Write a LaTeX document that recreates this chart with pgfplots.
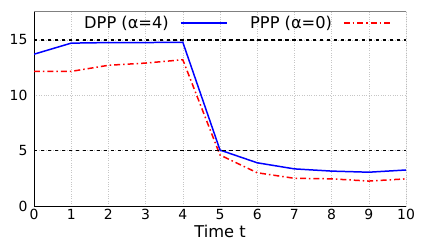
\documentclass[border=0pt]{standalone}
\usepackage{pgfplots}
\pgfplotsset{compat=1.18}
\usepackage{fontspec}
\setmainfont{DejaVu Sans}
\begin{document}
\begin{tikzpicture}
\begin{axis}[
  name=ax,
  scale only axis,
  width=372bp, height=195bp,
  xmin=0, xmax=10, ymin=0, ymax=17.6,
  xtick={0,1,...,10}, ytick={0,5,10,15},
  axis x line*=bottom, axis y line*=left,
  axis line style={-, black, line width=0.8pt},
  major tick length=0pt,
  grid=major,
  grid style={dotted, gray!45, line width=0.5pt},
  tick label style={font=\fontsize{14}{16}\selectfont},
  /pgf/number format/assume math mode=true,
  xlabel={Time t},
  xlabel style={font=\fontsize{16.3}{18}\selectfont, yshift=2pt},
  yticklabel style={xshift=-3pt},
  legend columns=2,
  legend plot pos=right,
  legend style={draw=none, fill=none, at={(0.544,0.938)}, anchor=center, font=\fontsize{16.3}{18}\selectfont,
    /tikz/every even column/.append style={column sep=21pt}},
  legend image code/.code={\path (0bp,0bp); \draw[#1] (9bp,0bp) -- (55bp,0bp);},
]
\addplot[blue, line width=1.5pt] coordinates {
(0,13.7) (1,14.7) (2,14.75) (3,14.75) (4,14.78) (5,5.05) (6,3.9) (7,3.35) (8,3.15) (9,3.05) (10,3.25)};
\addlegendentry{DPP (α=4)}
\addplot[red, line width=1.5pt, dash pattern=on 6pt off 3pt on 1.5pt off 3pt] coordinates {
(0,12.15) (1,12.15) (2,12.7) (3,12.9) (4,13.2) (5,4.6) (6,3.0) (7,2.5) (8,2.45) (9,2.25) (10,2.45)};
\addlegendentry{PPP (α=0)}
\addplot[black, line width=1.6pt, dash pattern=on 3.5pt off 3.5pt, forget plot] coordinates {(0,15) (10,15)};
\addplot[black, line width=1.6pt, dash pattern=on 3.5pt off 3.5pt, forget plot] coordinates {(0,5) (10,5)};
\draw[gray, line width=0.8pt] (rel axis cs:0,1) -- (rel axis cs:1,1) -- (rel axis cs:1,0);
\end{axis}
\path (ax.south west) ++(-34bp,-39bp);
\path (ax.north east) ++(19bp,11bp);
\end{tikzpicture}
\end{document}
